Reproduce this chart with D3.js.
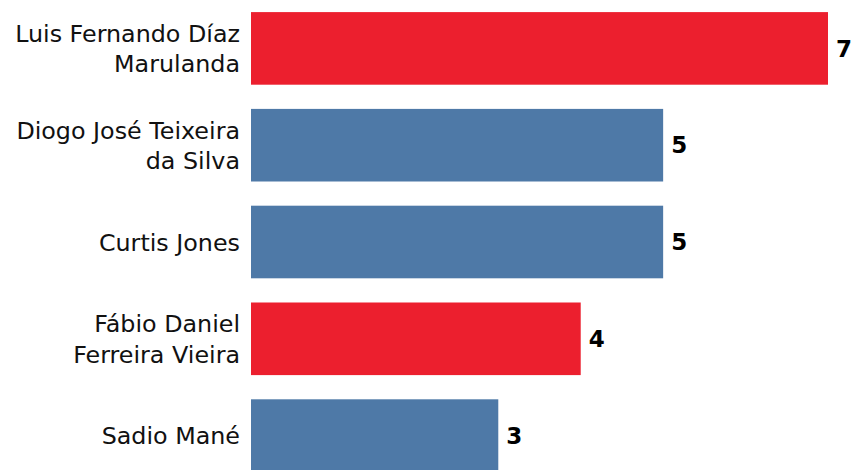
<!DOCTYPE html>
<html>
<head>
<meta charset="utf-8">
<script src="https://cdn.jsdelivr.net/npm/d3@7"></script>
<style>
  body { margin: 0; background: #fff; }
  svg { display: block; font-family: 'DejaVu Sans', sans-serif; }
</style>
</head>
<body>
<div id="chart"></div>
<script>
// player names (each entry = lines of the label), goals, highlight flag
var players = [
    ['Luis Fernando Díaz', 'Marulanda'],
    ['Diogo José Teixeira', 'da Silva'],
    ['Curtis Jones'],
    ['Fábio Daniel', 'Ferreira Vieira'],
    ['Sadio Mané']
];
var goals = [7, 5, 5, 4, 3];
var highlight = [true, false, false, true, false];

var redColor = '#ec1f2e';
var blueColor = '#4e79a7';

var width = 852, height = 470;

var svg = d3.select('#chart').append('svg')
    .attr('width', width)
    .attr('height', height);

var ids = d3.range(players.length);

var x = d3.scaleLinear()
    .domain([0, 7])
    .range([251, 828]);

var y = d3.scaleBand()
    .domain(ids)
    .range([0, 484])
    .paddingInner(0.25)
    .paddingOuter(0.125);

svg.append('g').selectAll('rect')
    .data(ids)
    .enter()
    .append('rect')
    .attr('x', x(0))
    .attr('y', function (i) { return y(i); })
    .attr('width', function (i) { return x(goals[i]) - x(0); })
    .attr('height', y.bandwidth())
    .style('fill', function (i) { return highlight[i] ? redColor : blueColor; });

// value labels
svg.append('g').selectAll('text')
    .data(ids)
    .enter()
    .append('text')
    .attr('x', function (i) { return x(goals[i]) + 8; })
    .attr('y', function (i) { return y(i) + y.bandwidth() / 2; })
    .attr('dy', '0.36em')
    .attr('font-size', '23px')
    .attr('font-weight', 'bold')
    .text(function (i) { return goals[i]; });

// category labels, possibly two lines
var lineH = 30.5;
var labels = svg.append('g').selectAll('text')
    .data(ids)
    .enter()
    .append('text')
    .attr('text-anchor', 'end')
    .attr('font-size', '23.8px')
    .attr('fill', '#111');

labels.each(function (i) {
    var lines = players[i];
    var cy = y(i) + y.bandwidth() / 2;
    var top = cy - (lines.length - 1) * lineH / 2;
    d3.select(this).selectAll('tspan')
        .data(lines)
        .enter()
        .append('tspan')
        .attr('x', 240)
        .attr('y', function (d, k) { return top + k * lineH; })
        .attr('dy', '0.36em')
        .text(function (d) { return d; });
});
</script>
</body>
</html>
